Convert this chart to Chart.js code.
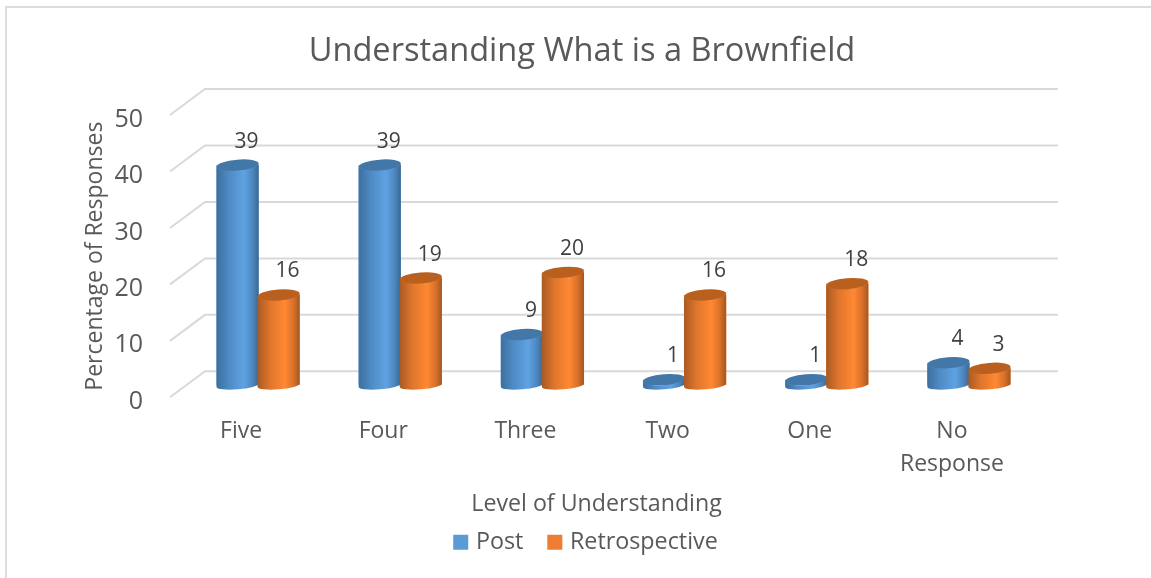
<!DOCTYPE html>
<html>
<head>
<meta charset="utf-8">
<title>Understanding What is a Brownfield</title>
<script src="https://cdn.jsdelivr.net/npm/chart.js@4"></script>
<style>
  html, body { margin: 0; padding: 0; background: #fff; }
  #wrap { position: relative; width: 1151px; height: 578px; }
</style>
</head>
<body>
<div id="wrap"><canvas id="brownfieldChart" width="1151" height="578"></canvas></div>
<script>
const levels = ["Five", "Four", "Three", "Two", "One", ["No", "Response"]];
const postValues = [39, 39, 9, 1, 1, 4];
const retrospectiveValues = [16, 19, 20, 16, 18, 3];
const axisTicks = [0, 10, 20, 30, 40, 50];

const FONT = "'Open Sans', sans-serif";
const TEXT = "#595959";

// how far the back wall sits behind the front plane of the axes
const WALL = { x: 35, y: -26 };
// the bars stand part of the way back
const DEPTH = { x: 17, y: -12 };

const shades = [
  { cap: "#4277a8", stops: ["#3d6f9e", "#4f8bc5", "#5fa2e3", "#4e87bf", "#3a6891"] },
  { cap: "#b9601f", stops: ["#a85a24", "#e0762c", "#ff8833", "#d9712a", "#a25722"] }
];

function drawCylinder(ctx, bar, shade) {
  const rx = bar.width / 2;
  const tilt = -0.08;
  const grad = ctx.createLinearGradient(bar.x - rx, 0, bar.x + rx, 0);
  [0, 0.3, 0.65, 0.85, 1].forEach((p, i) => grad.addColorStop(p, shade.stops[i]));

  ctx.beginPath();
  ctx.ellipse(bar.x, bar.y, rx, 5.5, tilt, 0, Math.PI);
  // the foot reads flatter than the cap
  ctx.ellipse(bar.x, bar.base, rx, 4, tilt, Math.PI, 0, true);
  ctx.closePath();
  ctx.fillStyle = grad;
  ctx.fill();

  ctx.beginPath();
  ctx.ellipse(bar.x, bar.y, rx, 5.5, tilt, 0, Math.PI * 2);
  ctx.fillStyle = shade.cap;
  ctx.fill();
}

const scenePlugin = {
  id: "scene",
  beforeDraw(chart) {
    const ctx = chart.ctx;
    ctx.save();
    ctx.fillStyle = "#fff";
    ctx.fillRect(0, 0, chart.width, chart.height);
    // outer frame, top and left only
    ctx.strokeStyle = "#dcdcdc";
    ctx.lineWidth = 2;
    ctx.beginPath();
    ctx.moveTo(6, chart.height);
    ctx.lineTo(6, 7);
    ctx.lineTo(chart.width, 7);
    ctx.stroke();
    ctx.restore();
  },
  afterLayout(chart) {
    // the title sits a little left of the legend
    chart.titleBlock.left -= 5.5;
    chart.titleBlock.right -= 5.5;
  },
  beforeDatasetsDraw(chart) {
    const ctx = chart.ctx;
    const { left, right } = chart.chartArea;
    const yScale = chart.scales.y;
    ctx.save();
    ctx.strokeStyle = "#d9d9d9";
    ctx.lineWidth = 2;
    axisTicks.forEach((v) => {
      const y = yScale.getPixelForValue(v);
      ctx.beginPath();
      ctx.moveTo(left, y);
      ctx.lineTo(left + WALL.x, y + WALL.y);
      ctx.lineTo(right + WALL.x, y + WALL.y);
      ctx.stroke();
    });
    ctx.restore();
    ctx.save();
    ctx.translate(DEPTH.x, DEPTH.y);
  },
  afterDatasetsDraw(chart) {
    const ctx = chart.ctx;
    // left bar of each pair first so the right one overlaps it
    chart.data.labels.forEach((_, i) => {
      chart.data.datasets.forEach((ds, d) => {
        drawCylinder(ctx, chart.getDatasetMeta(d).data[i], shades[d]);
      });
    });
    ctx.fillStyle = "#404040";
    ctx.font = "21px " + FONT;
    ctx.textAlign = "center";
    ctx.textBaseline = "middle";
    chart.data.datasets.forEach((ds, d) => {
      chart.getDatasetMeta(d).data.forEach((bar, i) => {
        ctx.fillText(String(ds.data[i]), bar.x + 9, bar.y - 23.5);
      });
    });
    ctx.restore();
  }
};

new Chart(document.getElementById("brownfieldChart"), {
  type: "bar",
  data: {
    labels: levels,
    datasets: [
      { label: "Post", data: postValues, backgroundColor: "#5b9bd5" },
      { label: "Retrospective", data: retrospectiveValues, backgroundColor: "#ed7d31" }
    ]
  },
  plugins: [scenePlugin],
  options: {
    responsive: false,
    animation: false,
    categoryPercentage: 0.577,
    barPercentage: 1.03,
    layout: { padding: { left: 24, right: 0, top: 32, bottom: 14 } },
    plugins: {
      tooltip: { enabled: false },
      title: {
        display: true,
        text: "Understanding What is a Brownfield",
        color: TEXT,
        font: { family: FONT, size: 32.6, weight: "normal" },
        padding: { top: 0, bottom: 43.9 }
      },
      legend: {
        position: "bottom",
        labels: {
          color: TEXT,
          font: { family: FONT, size: 23.3 },
          boxWidth: 7,
          boxHeight: 7,
          padding: 28,
          // a thick outline brings the swatch to full size with the text close beside it
          generateLabels(chart) {
            return Chart.defaults.plugins.legend.labels.generateLabels(chart).map((item) => ({
              ...item,
              strokeStyle: item.fillStyle,
              lineWidth: 8
            }));
          }
        }
      }
    },
    scales: {
      x: {
        grid: { display: false, drawTicks: false },
        border: { display: false },
        ticks: {
          color: TEXT,
          font: { family: FONT, size: 23, lineHeight: 1.43 },
          padding: 17.5,
          maxRotation: 0,
          minRotation: 0,
          autoSkip: false
        },
        title: {
          display: true,
          text: "Level of Understanding",
          color: TEXT,
          font: { family: FONT, size: 23.2 },
          padding: { top: 0, bottom: -15.6 }
        },
        afterFit(scale) { scale.height = 105.4; }
      },
      y: {
        min: 0,
        max: 50,
        grid: { display: false, drawTicks: false },
        border: { display: false },
        ticks: {
          color: TEXT,
          stepSize: 10,
          font: { family: FONT, size: 25 },
          padding: 27,
          labelOffset: 4.5
        },
        title: {
          display: true,
          text: "Percentage of Responses",
          color: TEXT,
          font: { family: FONT, size: 23 },
          padding: { top: 58, bottom: 0 }
        },
        afterFit(scale) { scale.width = 146; }
      },
      // keeps the plot clear of the right side of the canvas
      spacer: {
        position: "right",
        grid: { display: false, drawTicks: false },
        border: { display: false },
        ticks: { display: false },
        afterFit(scale) { scale.width = 128; }
      }
    }
  }
});
</script>
</body>
</html>
